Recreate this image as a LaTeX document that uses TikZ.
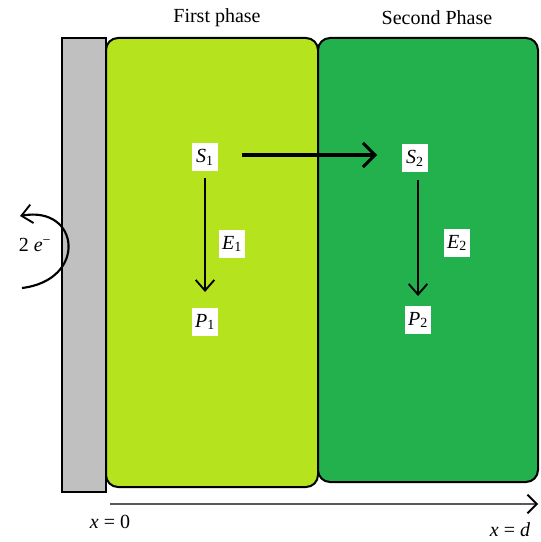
\documentclass[tikz,border=0pt]{standalone}
\usepackage{fontspec}
\setmainfont{Liberation Serif}
\usetikzlibrary{arrows.meta}
\definecolor{lightg}{HTML}{B5E31E}
\definecolor{darkg}{HTML}{22B14C}
\definecolor{wallgray}{HTML}{C0C0C0}
\newcommand{\lbl}[2]{\textit{#1}\textsubscript{#2}}
\begin{document}
\begin{tikzpicture}[x=0.75pt,y=-0.75pt,
  phase/.style={draw=black,line width=1.5pt,rounded corners=9pt},
  spec/.style={fill=white,inner sep=2pt,minimum width=20pt,minimum height=21pt,font=\fontsize{15}{17}\selectfont},
  title/.style={font=\fontsize{15}{17}\selectfont},
  arr/.style={line width=1.3pt,-{Straight Barb[length=8pt,width=14pt,line width=1.4pt]}},
  bigarr/.style={line width=2.6pt,-{Straight Barb[length=9pt,width=18pt,line width=2.2pt]}}]
\useasboundingbox (0,0) rectangle (540,542);
% wall
\draw[fill=wallgray,line width=1.2pt] (62,38) rectangle (106,492);
% phases
\draw[phase,fill=lightg] (106,38) rectangle (318,487);
\draw[phase,fill=darkg] (318,38) rectangle (538,482);
% titles
\node[title] (t1) at (217,18) {First phase};
\node[title] (t2) at (437,18) {Second Phase};
% species
\node[spec] (S1) at (205,157) {\lbl{S}{1}};
\node[spec] (S2) at (415,158) {\lbl{S}{2}};
\node[spec] (P1) at (205,322) {\lbl{P}{1}};
\node[spec] (P2) at (418,320) {\lbl{P}{2}};
\node[spec] (E1) at (232,244) {\lbl{E}{1}};
\node[spec] (E2) at (457,243) {\lbl{E}{2}};
% arrows
\coordinate (s1a) at (242,155);
\coordinate (s2a) at (377,155);
\draw[bigarr] (s1a) -- (s2a);
\coordinate (e1s) at (205,178);
\coordinate (e1e) at (205,292);
\draw[arr] (e1s) -- (e1e);
\coordinate (e2s) at (418,180);
\coordinate (e2e) at (418,296);
\draw[arr] (e2s) -- (e2e);
% electrons
\node[font=\fontsize{15}{17}\selectfont] (el) at (35,245) {2 \textit{e}\textsuperscript{−}};
\coordinate (cs) at (22,288);
\coordinate (ce) at (20,216);
\draw[arr,line width=1.6pt] (cs) .. controls (88,280) and (80,205) .. (ce);
% axis
\coordinate (ax0) at (110,504);
\coordinate (ax1) at (538,504);
\draw[line width=1.3pt,draw=gray!70!black,-{Straight Barb[length=7pt,width=14pt,line width=1.4pt,color=black]}] (ax0) -- (ax1);
\node[title] (x0) at (110,522) {\textit{x} = 0};
\node[title] (xd) at (510,530) {\textit{x} = \textit{d}};
\end{tikzpicture}
\end{document}
